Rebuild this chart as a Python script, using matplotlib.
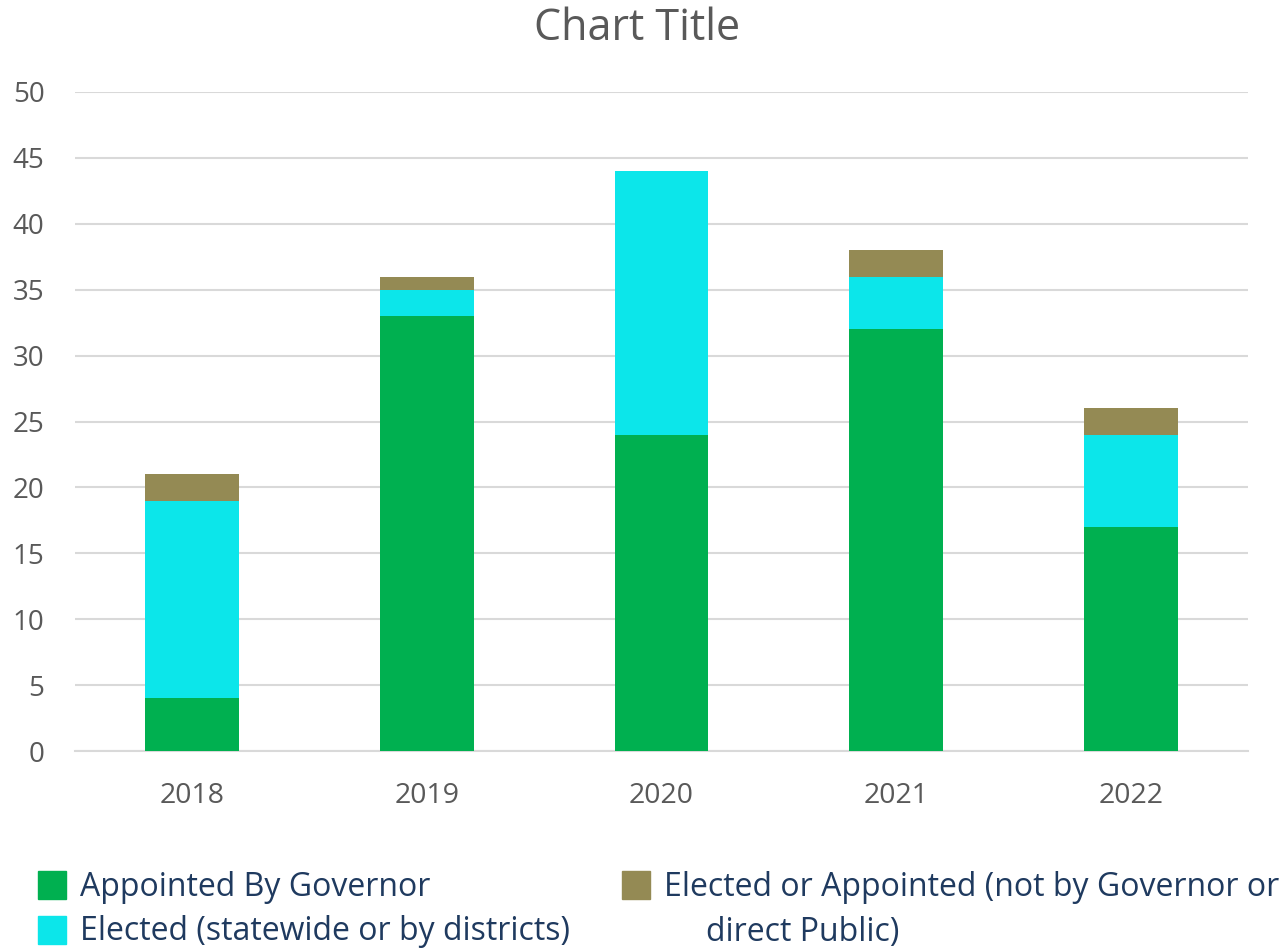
import matplotlib.pyplot as plt
from matplotlib.patches import Rectangle
import numpy as np

# Chart data
years = ["2018", "2019", "2020", "2021", "2022"]
appointed_gov = [4, 33, 24, 32, 17]
elected = [15, 2, 20, 4, 7]
elected_or_appointed = [2, 1, 0, 2, 2]

labels = ["Appointed By Governor",
          "Elected (statewide or by districts)",
          "Elected or Appointed (not by Governor or"]
colors = ["#00B050", "#0CE6EA", "#948A54"]

plt.rcParams['font.family'] = ['Open Sans', 'DejaVu Sans']

fig = plt.figure(figsize=(12.87, 9.48), dpi=100)
ax = fig.add_axes([75 / 1287, 1 - 751 / 948, 1173 / 1287, 659 / 948])

x = np.arange(len(years))
bottom = np.zeros(len(years))
for vals, col in zip([appointed_gov, elected, elected_or_appointed], colors):
    ax.bar(x, vals, width=0.4, bottom=bottom, color=col, zorder=3)
    bottom += np.array(vals)

ax.set_xlim(-0.5, 4.5)
ax.set_ylim(0, 50)
ax.set_yticks(range(0, 51, 5))
ax.set_xticks(x)
ax.set_xticklabels(years)
ax.grid(axis="y", color="#D9D9D9", linewidth=1.5, zorder=0)
for s in ["top", "right", "left"]:
    ax.spines[s].set_visible(False)
ax.spines["bottom"].set_color("#D9D9D9")
ax.spines["bottom"].set_linewidth(1.5)
ax.tick_params(axis="y", length=0, labelsize=20, labelcolor="#595959", pad=22)
ax.tick_params(axis="x", length=0, labelsize=20.5, labelcolor="#595959", pad=22)

fig.text(0.495, 1 - 29 / 948, "Chart Title", ha="center", va="center",
         fontsize=31, color="#595959")

# Legend drawn by hand so the wrapped label lines up like the original
leg_font = ['Liberation Sans Narrow', 'Open Sans', 'DejaVu Sans']
items = [(38, 885, 0), (38, 930, 1), (622, 885, 2)]
for px, py, i in items:
    fig.patches.append(Rectangle((px / 1287, 1 - (py + 14) / 948), 28 / 1287, 28 / 948,
                                 transform=fig.transFigure, color=colors[i]))
    fig.text((px + 42) / 1287, 1 - (py + 2) / 948, labels[i], va="center", ha="left",
             fontsize=23, color="#1F3A5F", family=leg_font)
fig.text(706 / 1287, 1 - 932 / 948, "direct Public)", va="center", ha="left",
         fontsize=23, color="#1F3A5F", family=leg_font)

fig.savefig("out.png", dpi=100)
